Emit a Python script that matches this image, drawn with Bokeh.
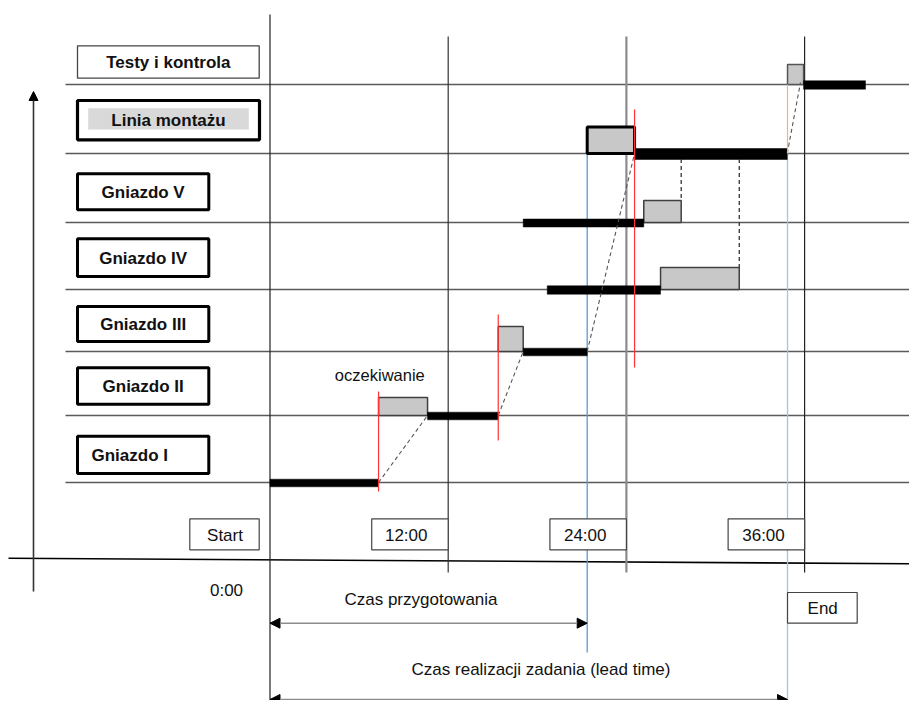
from bokeh.plotting import figure
from bokeh.models import Range1d, Arrow, NormalHead, ColumnDataSource
from bokeh.core.properties import value
from bokeh.embed import file_html
from bokeh.resources import INLINE

# ---------------- data (time in hours) ----------------
stations = ["Gniazdo I", "Gniazdo II", "Gniazdo III", "Gniazdo IV",
            "Gniazdo V", "Linia montażu", "Testy i kontrola"]
proc_start = [0.0, 10.61, 17.05, 18.67, 17.05, 24.55, 35.93]
proc_end = [7.31, 15.37, 21.36, 26.30, 25.17, 34.83, 40.10]
wait_station = [1, 2, 3, 4, 5, 6]
wait_start = [7.31, 15.37, 26.30, 25.17, 21.36, 34.85]
wait_end = [10.61, 17.05, 31.60, 27.69, 24.55, 35.93]
time_ticks = [0, 12, 24, 36]
time_tick_labels = ["Start", "12:00", "24:00", "36:00"]
red_marks = [7.31, 15.37, 24.55]
prep_time_end = 21.36
lead_time_end = 34.85
wait_label = "oczekiwanie"
prep_label = "Czas przygotowania"
lead_label = "Czas realizacji zadania (lead time)"

# ---------------- layout ----------------
X0, PXH = 269.5, 14.85
W, H = 909, 700


def hx(X):
    return (X - X0) / PXH


row_base = [482, 415, 351, 289, 222, 153, 84]
bar_half = [3.8, 3.8, 3.8, 4.2, 4.0, 5.5, 4.2]
wait_h = [18, 25, 22, 22, 26.5, 20]
FONT = value("Liberation Sans")

p = figure(width=W, height=H, x_range=Range1d(hx(0), hx(W)),
           y_range=Range1d(H, 0), x_axis_type=None, y_axis_type=None,
           toolbar_location=None, output_backend="svg", min_border=0,
           outline_line_color=None)
p.grid.visible = False

# horizontal row lines
for yb in row_base:
    p.line(x=[hx(65), hx(909)], y=[yb, yb], line_color="#5a5a5a", line_width=1.4)

# slanted base line and vertical arrow
p.line(x=[hx(8), hx(917)], y=[557.7, 563.3], line_color="black", line_width=1.6)
p.add_layout(Arrow(end=NormalHead(size=9, fill_color="black", line_color="black"),
                   x_start=hx(33), y_start=591, x_end=hx(33), y_end=91,
                   line_color="#333333", line_width=1.6))

# vertical time grid lines
grid_top = [14, 36, 36, 36]
grid_bot = [708, 572, 572, 572]
grid_col = ["#222222", "#333333", "#8c8c8c", "#222222"]
grid_w = [1.2, 1.2, 2.2, 1.2]
for t, y0, y1, c, w in zip(time_ticks, grid_top, grid_bot, grid_col, grid_w):
    p.line(x=[t, t], y=[y0, y1], line_color=c, line_width=w)

# blue lines
p.line(x=[prep_time_end] * 2, y=[153, 652], line_color="#5b9bd5", line_width=1.3)
p.line(x=[lead_time_end] * 2, y=[153, 708], line_color="#9dc3e6", line_width=1.3)

# waiting boxes (gray)
wsrc = ColumnDataSource(dict(
    left=wait_start, right=wait_end,
    bottom=[row_base[s] for s in wait_station],
    top=[row_base[s] - h for s, h in zip(wait_station, wait_h)],
    lw=[1.5, 1.5, 1.5, 1.5, 3.0, 1.5],
    lc=["#404040", "#404040", "#404040", "#404040", "black", "#555555"]))
p.quad(left="left", right="right", top="top", bottom="bottom", source=wsrc,
       fill_color="#c8c8c8", line_color="lc", line_width="lw")

# processing bars (black)
psrc = ColumnDataSource(dict(
    left=proc_start, right=proc_end,
    top=[b - h + 0.5 for b, h in zip(row_base, bar_half)],
    bottom=[b + h + 0.5 for b, h in zip(row_base, bar_half)]))
p.quad(left="left", right="right", top="top", bottom="bottom", source=psrc,
       fill_color="black", line_color="black", line_width=0.5)

# dashed connectors
segs_x0 = [proc_end[0], proc_end[1], proc_end[2], proc_end[5]]
segs_y0 = [row_base[0], row_base[1], row_base[2], row_base[5]]
segs_x1 = [wait_end[0], wait_end[1], wait_end[4], hx(800)]
segs_y1 = [row_base[1], row_base[2], row_base[5], row_base[6] - 2]
p.segment(x0=segs_x0, y0=segs_y0, x1=segs_x1, y1=segs_y1,
          line_color="#555555", line_width=1.1, line_dash="4 3")
p.segment(x0=[wait_end[3], wait_end[2]], y0=[158.5, 158.5],
          x1=[wait_end[3], wait_end[2]],
          y1=[row_base[4] - wait_h[3], row_base[3] - wait_h[2]],
          line_color="#333333", line_width=1.3, line_dash="4 3")

# red / orange marks
red_y0 = [391, 314, 109]
red_y1 = [491, 440, 367]
p.segment(x0=red_marks, y0=red_y0, x1=red_marks, y1=red_y1,
          line_color="#ff3333", line_width=1.2)
p.line(x=[lead_time_end] * 2, y=[84, 153], line_color="#f4b183", line_width=1.2)

# station label boxes
lb_right = [208.3, 208.3, 208.3, 208.3, 208.3, 259, 258.7]
lb_top = [435.7, 367.3, 306, 238.3, 173.3, 100, 45.3]
lb_bot = [473, 403.7, 341, 276, 209.3, 139.3, 77.7]
lb_lw = [3, 3, 3, 3, 3, 3.2, 1.3]
lb_lc = ["black"] * 6 + ["#444444"]
p.quad(left=[hx(77)] * 7, right=[hx(r) for r in lb_right], top=lb_top,
       bottom=lb_bot, fill_color="white", line_color=lb_lc, line_width=lb_lw)
p.quad(left=[hx(87.7)], right=[hx(248.3)], top=[107.7], bottom=[129],
       fill_color="#d9d9d9", line_color=None)
lx = [hx(91)] + [hx((77 + r) / 2) for r in lb_right[1:]]
ly = [(a + b) / 2 + 0.5 for a, b in zip(lb_top, lb_bot)]
p.text(x=lx[:1], y=ly[:1], text=stations[:1], text_font=FONT, text_font_size="17px",
       text_font_style="bold", text_align="left", text_baseline="middle", text_color="#111111")
p.text(x=lx[1:], y=ly[1:], text=stations[1:], text_font=FONT, text_font_size="17px",
       text_font_style="bold", text_align="center", text_baseline="middle", text_color="#111111")

# time tick boxes
tb_left = [hx(189.3)] + [t - 5.15 for t in time_ticks[1:]]
tb_right = [hx(258.7)] + time_ticks[1:]
p.quad(left=tb_left, right=tb_right, top=[518.3] * 4, bottom=[549.3] * 4,
       fill_color="white", line_color="#444444", line_width=1.2)
tx = [hx(224.5), hx(405.7), hx(584.7), hx(763)]
p.text(x=tx, y=[534.5] * 4, text=time_tick_labels, text_font=FONT,
       text_font_size="17px", text_align="center", text_baseline="middle", text_color="#111111")

# End box
p.quad(left=[lead_time_end], right=[hx(856.7)], top=[592], bottom=[622.7],
       fill_color="white", line_color="#444444", line_width=1.2)
p.text(x=[hx(822.2)], y=[608], text=["End"], text_font=FONT, text_font_size="17px",
       text_align="center", text_baseline="middle", text_color="#111111")
p.text(x=[hx(226)], y=[589.5], text=["0:00"], text_font=FONT, text_font_size="17px",
       text_align="center", text_baseline="middle", text_color="#111111")

# other texts
p.text(x=[hx(379.3)], y=[374.5], text=[wait_label], text_font=FONT,
       text_font_size="16.5px", text_align="center", text_baseline="middle", text_color="#111111")
p.text(x=[hx(420.5)], y=[598.5], text=[prep_label], text_font=FONT,
       text_font_size="17px", text_align="center", text_baseline="middle", text_color="#111111")
p.text(x=[hx(540.5)], y=[668.5], text=[lead_label], text_font=FONT,
       text_font_size="17px", text_align="center", text_baseline="middle", text_color="#111111")

# duration arrows
for xe, ya in [(prep_time_end, 622.7), (lead_time_end, 699)]:
    p.add_layout(Arrow(start=NormalHead(size=10, fill_color="black", line_color="black"),
                       end=NormalHead(size=10, fill_color="black", line_color="black"),
                       x_start=time_ticks[0], y_start=ya, x_end=xe, y_end=ya,
                       line_color="#8c8c8c", line_width=1.4))

open("out.html", "w").write(file_html(p, INLINE))
